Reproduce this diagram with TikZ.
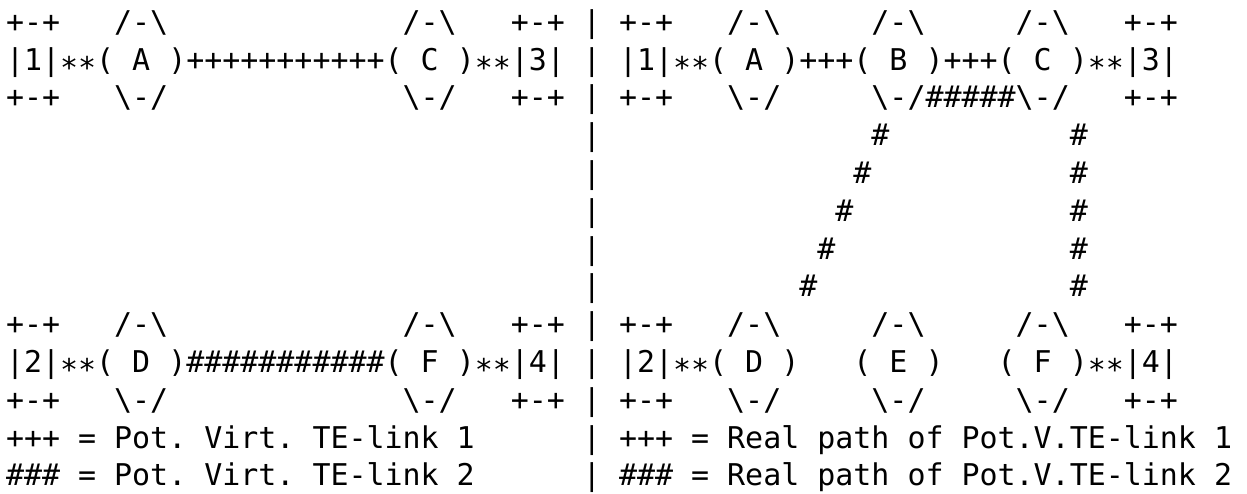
\documentclass[tikz,border=0pt]{standalone}
\usepackage{fontspec}
\newfontfamily\asciimono{DejaVu Sans Mono}
\newcommand\bsl{\textbackslash}
\newcommand\lowstar{\raisebox{-0.27em}{*}}
% one fixed character cell of the text grid
\newcommand\cellw{18.03}
\newcommand\rowh{37.8}
\tikzset{
  gridtext/.style={anchor=base west, inner sep=0pt, outer sep=0pt,
    font=\asciimono\fontsize{29.95}{36}\selectfont\frenchspacing},
}
% \seg{name}{column}{row}{text}
\newcommand\seg[4]{%
  \pgfmathsetmacro\segx{6+\cellw*#2}%
  \pgfmathsetmacro\segy{32.2+\rowh*#3}%
  \node[gridtext] (#1) at (\segx pt,-\segy pt) {#4};}
\begin{document}
\begin{tikzpicture}
\useasboundingbox[fill=white] (0pt,0pt) rectangle (1247pt,-493pt);
% ---- left half: potential virtual TE-links ----
\seg{lboxa}{0}{0}{+-+}
\seg{lhexAt}{6}{0}{/-\bsl}
\seg{lhexCt}{22}{0}{/-\bsl}
\seg{lboxc}{28}{0}{+-+}
\seg{lrow}{0}{1}{|1|\lowstar\lowstar( A )+++++++++++( C )\lowstar\lowstar|3|}
\seg{lboxab}{0}{2}{+-+}
\seg{lhexAb}{6}{2}{\bsl-/}
\seg{lhexCb}{22}{2}{\bsl-/}
\seg{lboxcb}{28}{2}{+-+}
\seg{lboxd}{0}{8}{+-+}
\seg{lhexDt}{6}{8}{/-\bsl}
\seg{lhexFt}{22}{8}{/-\bsl}
\seg{lboxf}{28}{8}{+-+}
\seg{lrowb}{0}{9}{|2|\lowstar\lowstar( D )\#\#\#\#\#\#\#\#\#\#\#( F )\lowstar\lowstar|4|}
\seg{lboxdb}{0}{10}{+-+}
\seg{lhexDb}{6}{10}{\bsl-/}
\seg{lhexFb}{22}{10}{\bsl-/}
\seg{lboxfb}{28}{10}{+-+}
\seg{lkeya}{0}{11}{+++ = Pot. Virt. TE-link 1}
\seg{lkeyb}{0}{12}{\#\#\# = Pot. Virt. TE-link 2}
% ---- separator column ----
\foreach \r in {0,...,12}{\seg{sep\r}{32}{\r}{|}}
% ---- right half: real paths ----
\seg{rboxa}{34}{0}{+-+}
\seg{rhexAt}{40}{0}{/-\bsl}
\seg{rhexBt}{48}{0}{/-\bsl}
\seg{rhexCt}{56}{0}{/-\bsl}
\seg{rboxc}{62}{0}{+-+}
\seg{rrow}{34}{1}{|1|\lowstar\lowstar( A )+++( B )+++( C )\lowstar\lowstar|3|}
\seg{rboxab}{34}{2}{+-+}
\seg{rhexAb}{40}{2}{\bsl-/}
\seg{rhexBb}{48}{2}{\bsl-/\#\#\#\#\#\bsl-/}
\seg{rboxcb}{62}{2}{+-+}
% hash path B -> D (diagonal) and C -> F (vertical)
\seg{dga}{48}{3}{\#}
\seg{dgb}{47}{4}{\#}
\seg{dgc}{46}{5}{\#}
\seg{dgd}{45}{6}{\#}
\seg{dge}{44}{7}{\#}
\foreach \r in {3,...,7}{\seg{vt\r}{59}{\r}{\#}}
\seg{rboxd}{34}{8}{+-+}
\seg{rhexDt}{40}{8}{/-\bsl}
\seg{rhexEt}{48}{8}{/-\bsl}
\seg{rhexFt}{56}{8}{/-\bsl}
\seg{rboxf}{62}{8}{+-+}
\seg{rrowD}{34}{9}{|2|\lowstar\lowstar( D )}
\seg{rrowE}{47}{9}{( E )}
\seg{rrowF}{55}{9}{( F )\lowstar\lowstar|4|}
\seg{rboxdb}{34}{10}{+-+}
\seg{rhexDb}{40}{10}{\bsl-/}
\seg{rhexEb}{48}{10}{\bsl-/}
\seg{rhexFb}{56}{10}{\bsl-/}
\seg{rboxfb}{62}{10}{+-+}
\seg{rkeya}{34}{11}{+++ = Real path of Pot.V.TE-link 1}
\seg{rkeyb}{34}{12}{\#\#\# = Real path of Pot.V.TE-link 2}
\end{tikzpicture}
\end{document}
